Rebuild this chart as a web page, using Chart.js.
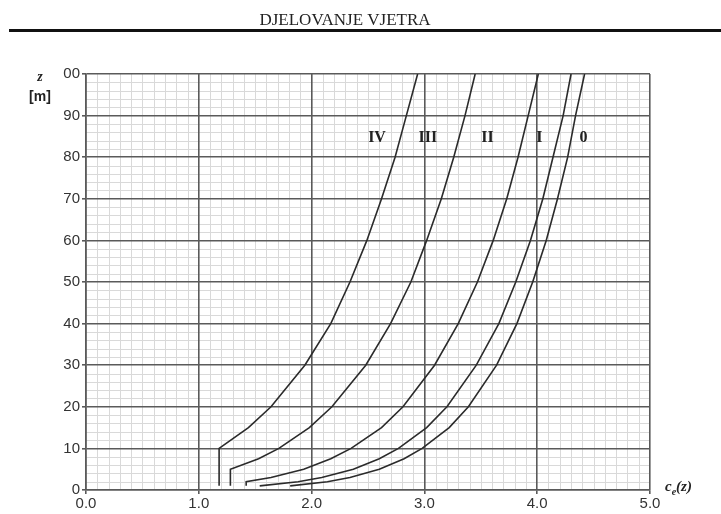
<!DOCTYPE html>
<html>
<head>
<meta charset="utf-8">
<script src="https://cdn.jsdelivr.net/npm/chart.js@4/dist/chart.umd.min.js"></script>
<style>
html,body{margin:0;padding:0;background:#fff;}
#wrap{width:721px;height:514px;position:relative;}
</style>
</head>
<body>
<div id="wrap"><canvas id="c" width="721" height="514"></canvas></div>
<script>
// ---- data ----
const headerText = 'DJELOVANJE VJETRA';
const categories = ['0', 'I', 'II', 'III', 'IV'];

const z0 = [1, 2, 3, 5, 7.5, 10, 15, 20, 30, 40, 50, 60, 70, 80, 90, 100];
const ce0 = [1.81, 2.14, 2.34, 2.60, 2.82, 2.98, 3.22, 3.39, 3.64, 3.82, 3.96, 4.08, 4.18, 4.27, 4.34, 4.42];

const zI = [1, 2, 3, 5, 7.5, 10, 15, 20, 30, 40, 50, 60, 70, 80, 90, 100];
const ceI = [1.54, 1.88, 2.09, 2.37, 2.60, 2.77, 3.02, 3.20, 3.46, 3.66, 3.81, 3.94, 4.05, 4.14, 4.23, 4.30];

const zII = [1, 2, 3, 5, 7.5, 10, 15, 20, 30, 40, 50, 60, 70, 80, 90, 100];
const ceII = [1.42, 1.42, 1.64, 1.93, 2.17, 2.35, 2.62, 2.81, 3.09, 3.30, 3.47, 3.61, 3.73, 3.83, 3.92, 4.01];

const zIII = [1, 5, 7.5, 10, 15, 20, 30, 40, 50, 60, 70, 80, 90, 100];
const ceIII = [1.28, 1.28, 1.53, 1.71, 1.98, 2.18, 2.48, 2.70, 2.88, 3.02, 3.15, 3.26, 3.36, 3.45];

const zIV = [1, 10, 15, 20, 30, 40, 50, 60, 70, 80, 90, 100];
const ceIV = [1.18, 1.18, 1.44, 1.64, 1.94, 2.17, 2.34, 2.49, 2.62, 2.74, 2.84, 2.94];

// curve label positions (in data units: ce, z)
const labelCe = [4.41, 4.02, 3.56, 3.03, 2.58];
const labelZ = 84.6;

const xTickLabels = ['0.0', '1.0', '2.0', '3.0', '4.0', '5.0'];
const yTickLabels = ['0', '10', '20', '30', '40', '50', '60', '70', '80', '90', '00'];
const yTitle = ['z', '[m]'];
const xTitle = { main: 'c', sub: 'e', tail: '(z)' };

// ---- build ----
function pts(zs, ces) { return zs.map((z, i) => ({ x: ces[i], y: z })); }
const series = [pts(z0, ce0), pts(zI, ceI), pts(zII, ceII), pts(zIII, ceIII), pts(zIV, ceIV)];

const MAJOR = '#5a5a5a', MINOR = '#d9d9d9';

function isMajorX(v) { return Math.abs(v - Math.round(v)) < 1e-6; }
function isMajorY(v) { return Math.abs(v / 10 - Math.round(v / 10)) < 1e-6; }

// minor grid drawn before the scales so that the major lines stay on top
const minorGrid = {
  id: 'minorGrid',
  beforeDraw(chart) {
    const ctx = chart.ctx, a = chart.chartArea;
    const xs = chart.scales.x, ys = chart.scales.y;
    ctx.save();
    ctx.strokeStyle = MINOR;
    ctx.lineWidth = 1;
    ctx.beginPath();
    xs.ticks.forEach(t => {
      if (isMajorX(t.value)) return;
      const p = Math.round(xs.getPixelForValue(t.value)) + 0.5;
      ctx.moveTo(p, a.top); ctx.lineTo(p, a.bottom);
    });
    ys.ticks.forEach(t => {
      if (isMajorY(t.value)) return;
      const p = Math.round(ys.getPixelForValue(t.value)) + 0.5;
      ctx.moveTo(a.left, p); ctx.lineTo(a.right, p);
    });
    ctx.stroke();
    ctx.restore();
  }
};

const extras = {
  id: 'extras',
  afterDraw(chart) {
    const ctx = chart.ctx;
    const xs = chart.scales.x, ys = chart.scales.y;
    ctx.save();
    // header
    ctx.fillStyle = '#222';
    ctx.font = '17px "Liberation Serif", "DejaVu Serif", serif';
    ctx.textAlign = 'center';
    ctx.textBaseline = 'alphabetic';
    ctx.fillText(headerText, 345, 25);
    // thick rule
    ctx.fillStyle = '#111';
    ctx.fillRect(9, 29, 712, 3);
    // y title
    ctx.fillStyle = '#222';
    ctx.font = 'italic bold 14px "Liberation Serif", serif';
    ctx.textAlign = 'center';
    ctx.textBaseline = 'middle';
    ctx.fillText(yTitle[0], 40, 77);
    ctx.font = 'bold 14px "Liberation Sans", Arial, sans-serif';
    ctx.fillText(yTitle[1], 40, 97);
    // x title
    ctx.font = 'italic bold 15px "Liberation Serif", serif';
    ctx.textAlign = 'left';
    const x0 = 665;
    ctx.fillText(xTitle.main, x0, 487);
    const w = ctx.measureText(xTitle.main).width;
    ctx.font = 'italic bold 10px "Liberation Serif", serif';
    ctx.fillText(xTitle.sub, x0 + w, 492);
    const w2 = ctx.measureText(xTitle.sub).width;
    ctx.font = 'italic bold 15px "Liberation Serif", serif';
    ctx.fillText(xTitle.tail, x0 + w + w2, 487);
    // curve labels
    ctx.font = 'bold 16px "Liberation Serif", serif';
    ctx.textAlign = 'center';
    categories.forEach((c, i) => {
      ctx.fillText(c, xs.getPixelForValue(labelCe[i]), ys.getPixelForValue(labelZ));
    });
    ctx.restore();
  }
};

new Chart(document.getElementById('c'), {
  type: 'scatter',
  data: {
    datasets: series.map((d, i) => ({
      label: categories[i],
      data: d,
      showLine: true,
      borderColor: '#2b2b2b',
      borderWidth: 1.6,
      pointRadius: 0,
      pointHoverRadius: 0,
      tension: 0,
      fill: false
    }))
  },
  options: {
    responsive: false,
    devicePixelRatio: 1,
    animation: false,
    events: [],
    layout: { padding: { left: 0, top: 74, right: 71, bottom: 0 } },
    plugins: { legend: { display: false }, tooltip: { enabled: false } },
    scales: {
      x: {
        type: 'linear',
        min: 0, max: 5,
        afterFit(s) { s.height = 24; },
        afterBuildTicks(s) {
          const t = [];
          for (let i = 0; i <= 50; i++) t.push({ value: i / 10 });
          s.ticks = t;
        },
        ticks: {
          autoSkip: false,
          maxRotation: 0,
          padding: 1,
          color: '#333',
          font: { family: '"Liberation Sans", Arial, sans-serif', size: 15 },
          callback(v) { return isMajorX(v) ? xTickLabels[Math.round(v)] : ''; }
        },
        grid: {
          color: c => isMajorX(c.tick.value) ? MAJOR : 'rgba(0,0,0,0)',
          lineWidth: c => isMajorX(c.tick.value) ? 1.6 : 0,
          tickColor: c => isMajorX(c.tick.value) ? MAJOR : 'rgba(0,0,0,0)',
          tickLength: 4
        },
        border: { color: MAJOR, width: 1.6 }
      },
      y: {
        type: 'linear',
        min: 0, max: 100,
        afterFit(s) { s.width = 86; },
        afterBuildTicks(s) {
          const t = [];
          for (let i = 0; i <= 50; i++) t.push({ value: i * 2 });
          s.ticks = t;
        },
        ticks: {
          autoSkip: false,
          padding: 2,
          color: '#333',
          font: { family: '"Liberation Sans", Arial, sans-serif', size: 15 },
          callback(v) { return isMajorY(v) ? yTickLabels[Math.round(v / 10)] : ''; }
        },
        grid: {
          color: c => isMajorY(c.tick.value) ? MAJOR : 'rgba(0,0,0,0)',
          lineWidth: c => isMajorY(c.tick.value) ? 1.6 : 0,
          tickColor: c => isMajorY(c.tick.value) ? MAJOR : 'rgba(0,0,0,0)',
          tickLength: 4
        },
        border: { color: MAJOR, width: 1.6 }
      }
    }
  },
  plugins: [minorGrid, extras]
});
</script>
</body>
</html>
